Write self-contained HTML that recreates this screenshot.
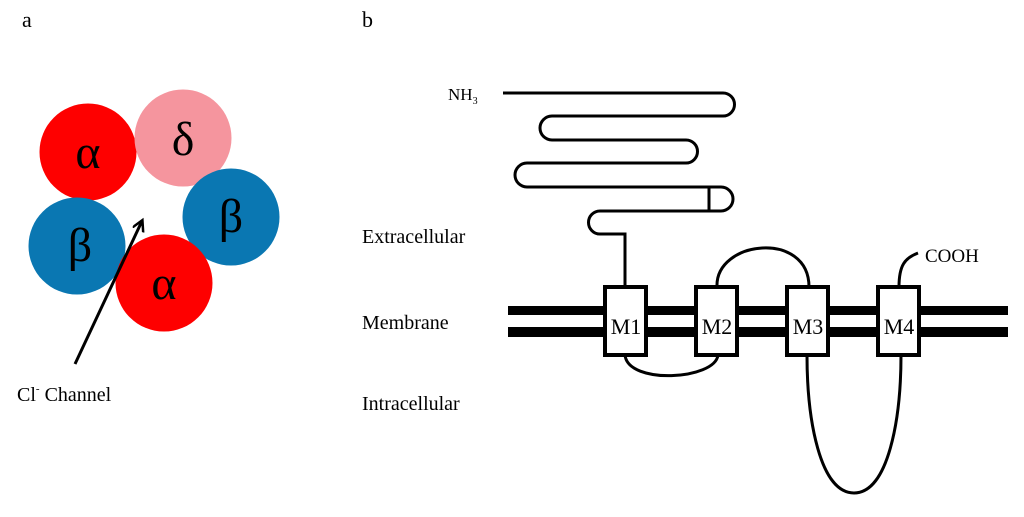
<!DOCTYPE html>
<html><head><style>
body{margin:0;background:#fff;}
svg text{font-family:"Liberation Serif",serif;fill:#000;}
</style></head><body>
<svg width="1024" height="512" viewBox="0 0 1024 512" xmlns="http://www.w3.org/2000/svg">
<defs><marker id="ah" markerWidth="14" markerHeight="14" refX="10" refY="6" orient="auto" markerUnits="userSpaceOnUse"><path d="M0,0 L11,6 L0,12" fill="none" stroke="#000" stroke-width="2.5"/></marker></defs>
<text x="22" y="27" font-size="22">a</text>
<text x="362" y="27" font-size="22">b</text>
<circle cx="88" cy="152" r="48.5" fill="#fe0000"/>
<circle cx="183" cy="138" r="48.5" fill="#f5959e"/>
<circle cx="77" cy="246" r="48.5" fill="#0a77b2"/>
<circle cx="231" cy="217" r="48.5" fill="#0a77b2"/>
<circle cx="164" cy="283" r="48.5" fill="#fe0000"/>
<text x="88" y="168" font-size="48" text-anchor="middle">α</text>
<text x="183" y="155" font-size="48" text-anchor="middle">δ</text>
<text x="80" y="261" font-size="48" text-anchor="middle">β</text>
<text x="231" y="232" font-size="48" text-anchor="middle">β</text>
<text x="164" y="299" font-size="48" text-anchor="middle">α</text>
<line x1="75" y1="364" x2="142" y2="221" stroke="#000" stroke-width="3" marker-end="url(#ah)"/>
<text x="17" y="401" font-size="20">Cl<tspan font-size="11" dy="-9">-</tspan><tspan dy="9"> Channel</tspan></text>

<text x="448" y="100" font-size="17">NH<tspan font-size="10" dy="4">3</tspan></text>
<path d="M503,93 H723 A11.5,11.5 0 0 1 723,116 H552 A12,12 0 0 0 552,140 H686 A11.5,11.5 0 0 1 686,163 H527 A12,12 0 0 0 527,187 H721 A12,12 0 0 1 721,211 H600 A11.5,11.5 0 0 0 600,234 H625 V287" fill="none" stroke="#000" stroke-width="3"/>
<line x1="709" y1="187" x2="709" y2="211" stroke="#000" stroke-width="3"/>
<text x="362" y="243" font-size="20">Extracellular</text>
<text x="362" y="329" font-size="20">Membrane</text>
<text x="362" y="410" font-size="20">Intracellular</text>
<rect x="508" y="306" width="500" height="9" fill="#000"/>
<rect x="508" y="327" width="500" height="10" fill="#000"/>
<path d="M717,287 C715,240 809,230 809,287" fill="none" stroke="#000" stroke-width="3"/>
<path d="M625,355 C628,385 715,380 718,355" fill="none" stroke="#000" stroke-width="3"/>
<path d="M807,355 C807,420 820,493 854,493 C888,493 901,420 901,355" fill="none" stroke="#000" stroke-width="3"/>
<path d="M899,287 C899,265 905,258 918,253" fill="none" stroke="#000" stroke-width="3"/>
<text x="925" y="262" font-size="19">COOH</text>
<g fill="#fff" stroke="#000" stroke-width="4">
<rect x="605" y="287" width="41" height="68"/>
<rect x="696" y="287" width="41" height="68"/>
<rect x="787" y="287" width="41" height="68"/>
<rect x="878" y="287" width="41" height="68"/>
</g>
<g font-size="22" text-anchor="middle">
<text x="626" y="334">M1</text>
<text x="717" y="334">M2</text>
<text x="808" y="334">M3</text>
<text x="899" y="334">M4</text>
</g>
</svg>
</body></html>
